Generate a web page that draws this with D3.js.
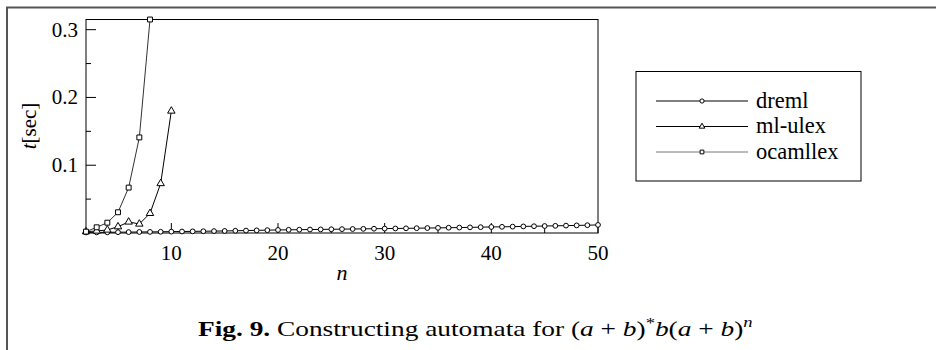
<!DOCTYPE html>
<html><head><meta charset="utf-8">
<script src="https://cdn.jsdelivr.net/npm/d3@7"></script>
<style>
html,body{margin:0;padding:0;background:#fff;}
svg{display:block;}
svg text{font-family:"Liberation Serif","DejaVu Serif",serif;}
</style></head>
<body>
<script>
// ---- data ----
const nDreml = d3.range(2, 51);
const dreml = [0.0008,0.0009,0.0010,0.0012,0.0013,0.0015,0.0016,0.0018,0.0020,
  0.0022,0.0024,0.0026,0.0028,0.0030,0.0033,0.0036,0.0039,0.0042,0.0045,
  0.0047,0.0049,0.0051,0.0053,0.0055,0.0057,0.0059,0.0061,0.0063,0.0065,
  0.0067,0.0069,0.0071,0.0073,0.0076,0.0078,0.0080,0.0083,0.0086,0.0089,
  0.0091,0.0094,0.0097,0.0100,0.0103,0.0106,0.0109,0.0112,0.0115,0.0119];
const nUlex = [2,3,4,5,6,7,8,9,10];
const mlUlex = [0.002,0.003,0.0045,0.0093,0.0163,0.0133,0.029,0.073,0.180];
const nOcaml = [2,3,4,5,6,7,8];
const ocamllex = [0.002,0.0084,0.0152,0.0306,0.067,0.141,0.315];
const xTicks = [10,20,30,40,50];
const xMinor = [5,15,25,35,45];
const yTicks = [0.1,0.2,0.3];
const yMinor = [0.05,0.15,0.25];
const seriesNames = ["dreml","ml-ulex","ocamllex"];

const W = 936, H = 350;
const svg = d3.select("body").append("svg").attr("width", W).attr("height", H);

// outer frame (page box)
svg.append("path").attr("d", "M7,352V7.5H940").attr("fill","none")
  .attr("stroke","#555").attr("stroke-width",2);

const x = d3.scaleLinear().domain([2, 50]).range([86, 598]);
const y = d3.scaleLinear().domain([0, d3.max(ocamllex)]).range([233, 19.5]);

// plot frame
svg.append("rect").attr("x", x(2)).attr("y", y.range()[1])
  .attr("width", x(50)-x(2)).attr("height", y(0)-y.range()[1])
  .attr("fill","none").attr("stroke","#000").attr("stroke-width",1);

// y axis ticks (inward)
const gy = svg.append("g");
gy.selectAll("line.maj").data(yTicks).join("line").attr("class","maj")
  .attr("x1", x(2)).attr("x2", x(2)+10).attr("y1", d=>y(d)).attr("y2", d=>y(d))
  .attr("stroke","#000");
gy.selectAll("line.min").data(yMinor).join("line").attr("class","min")
  .attr("x1", x(2)).attr("x2", x(2)+5).attr("y1", d=>y(d)).attr("y2", d=>y(d))
  .attr("stroke","#000");
gy.selectAll("text").data(yTicks).join("text")
  .attr("x", 78).attr("y", d=>y(d)+7).attr("text-anchor","end")
  .attr("font-size",21).text(d=>d3.format(".1f")(d));

// x axis ticks (inward)
const gx = svg.append("g");
gx.selectAll("line.maj").data(xTicks).join("line").attr("class","maj")
  .attr("x1", d=>x(d)).attr("x2", d=>x(d)).attr("y1", y(0)).attr("y2", y(0)-10)
  .attr("stroke","#000");
gx.selectAll("line.min").data(xMinor).join("line").attr("class","min")
  .attr("x1", d=>x(d)).attr("x2", d=>x(d)).attr("y1", y(0)).attr("y2", y(0)-5)
  .attr("stroke","#000");
gx.selectAll("text").data(xTicks).join("text")
  .attr("x", d=>x(d)).attr("y", 260).attr("text-anchor","middle")
  .attr("font-size",21).text(d=>d);

// axis labels
svg.append("text").attr("x", 342).attr("y", 280).attr("text-anchor","middle")
  .attr("font-size",22).attr("font-style","italic").text("n");
const yl = svg.append("text").attr("transform","translate(36,126) rotate(-90)")
  .attr("text-anchor","middle").attr("font-size",21);
yl.append("tspan").attr("font-style","italic").text("t");
yl.append("tspan").text("[sec]");

// markers
const symType = {"dreml": d3.symbolCircle, "ml-ulex": d3.symbolTriangle, "ocamllex": d3.symbolSquare};
const symSize = {"dreml": 18, "ml-ulex": 24, "ocamllex": 24};
const lineColor = {"dreml":"#000","ml-ulex":"#000","ocamllex":"#333"};
const series = [
  {name:"dreml", xs:nDreml, ys:dreml},
  {name:"ml-ulex", xs:nUlex, ys:mlUlex},
  {name:"ocamllex", xs:nOcaml, ys:ocamllex}
];
const line = d3.line().x(d=>x(d[0])).y(d=>y(d[1]));
series.forEach(s => {
  const pts = s.xs.map((v,i)=>[v, s.ys[i]]);
  svg.append("path").datum(pts).attr("d", line).attr("fill","none")
    .attr("stroke", lineColor[s.name]).attr("stroke-width",1);
  svg.append("g").selectAll("path").data(pts).join("path")
    .attr("transform", d=>`translate(${x(d[0])},${y(d[1])})`)
    .attr("d", d3.symbol().type(symType[s.name]).size(symSize[s.name])())
    .attr("fill","#fff").attr("stroke","#000").attr("stroke-width",1);
});

// legend
const lg = svg.append("g");
lg.append("rect").attr("x",636).attr("y",71.5).attr("width",225).attr("height",109.5)
  .attr("fill","#fff").attr("stroke","#000");
const ly = d3.scalePoint().domain(seriesNames).range([101, 152]);
seriesNames.forEach(nm => {
  lg.append("line").attr("x1",656).attr("x2",748).attr("y1",ly(nm)).attr("y2",ly(nm))
    .attr("stroke", nm==="ocamllex" ? "#777" : "#000");
  lg.append("path").attr("transform",`translate(702,${ly(nm)})`)
    .attr("d", d3.symbol().type(symType[nm]).size(14)())
    .attr("fill","#fff").attr("stroke","#000");
  lg.append("text").attr("x",756).attr("y",ly(nm)+6.5)
    .attr("font-size",22.5).text(nm);
});

// caption
const cap = svg.append("text").attr("x", 0).attr("y", 0).attr("font-size",22);
cap.append("tspan").attr("font-weight","bold").text("Fig. 9.");
cap.append("tspan").text(" Constructing automata for (");
cap.append("tspan").attr("font-style","italic").text("a");
cap.append("tspan").text(" + ");
cap.append("tspan").attr("font-style","italic").text("b");
cap.append("tspan").text(")");
cap.append("tspan").attr("dy",-8).attr("font-size",15).text("*");
cap.append("tspan").attr("dy",8).attr("font-style","italic").text("b");
cap.append("tspan").text("(");
cap.append("tspan").attr("font-style","italic").text("a");
cap.append("tspan").text(" + ");
cap.append("tspan").attr("font-style","italic").text("b");
cap.append("tspan").text(")");
cap.append("tspan").attr("dy",-9).attr("font-size",15).attr("font-style","italic").text("n");
// stretch caption horizontally to the reference's width (Computer Modern is wider)
const len = cap.node().getComputedTextLength();
cap.attr("transform", `translate(198,336) scale(${(555/len).toFixed(3)},1)`);
</script>
</body></html>
